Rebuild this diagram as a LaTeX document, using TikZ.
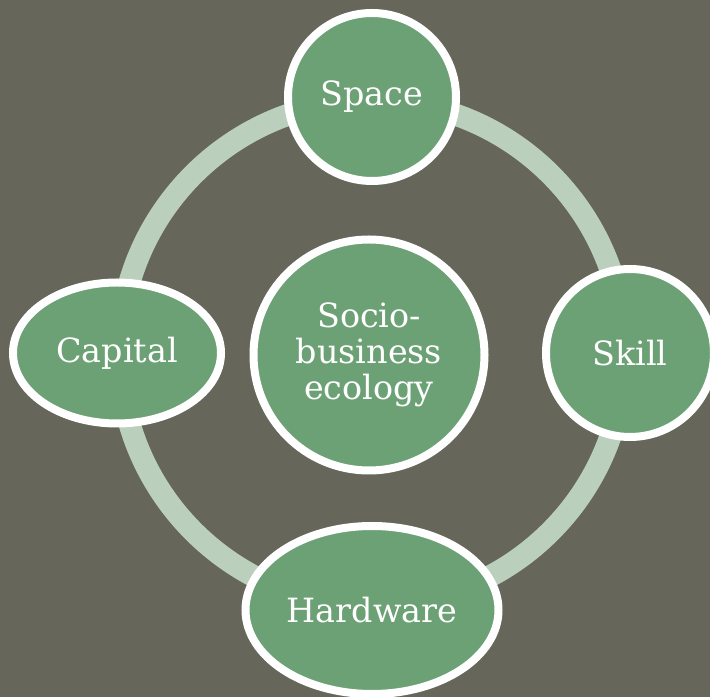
\documentclass[tikz,border=0pt]{standalone}
\usepackage{fontspec}
\setmainfont{DejaVu Serif}
\definecolor{bg}{HTML}{66675A}
\definecolor{leaf}{HTML}{6CA176}
\definecolor{ringc}{HTML}{BBCFBD}
\usetikzlibrary{positioning, shapes.geometric}

\begin{document}
\begin{tikzpicture}[
        part/.style={draw=white, line width=0.16cm, fill=leaf,
                     text=white, font=\fontsize{19}{20.5}\selectfont,
                     inner sep=0pt, align=center},
        roundpart/.style={part, circle, minimum size=3.36cm},
        ovalpart/.style={part, ellipse}]
    \fill [bg] (0,0) rectangle (14.2,13.94);
    \useasboundingbox (0,0) rectangle (14.2,13.94);
    \coordinate (mid) at (7.44,6.88);
    % ring behind the parts
    \draw [ringc, line width=0.44cm] (mid) circle (5.05);
    \node [roundpart, minimum size=4.62cm] (hub) at (7.38,6.84)
        {Socio-\\business\\ecology};
    \node [roundpart, above=5.12cm of mid, anchor=center] (space) {Space};
    \node [roundpart, right=5.16cm of mid, anchor=center] (skill) {Skill};
    \node [ovalpart, minimum width=4.16cm, minimum height=2.82cm,
           left=5.1cm of mid, anchor=center] (capital) {Capital};
    \node [ovalpart, minimum width=5.06cm, minimum height=3.36cm,
           below=5.14cm of mid, anchor=center] (hardware) {Hardware};
\end{tikzpicture}
\end{document}
